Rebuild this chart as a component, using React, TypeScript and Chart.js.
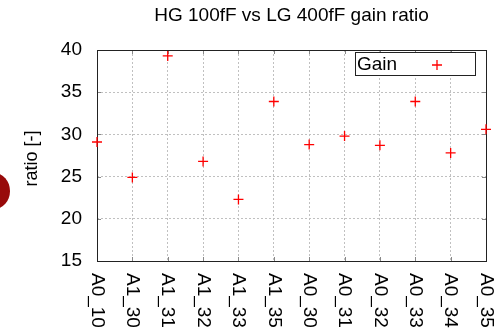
import React, { useEffect, useRef } from "react";
import { Chart, registerables } from "chart.js";

Chart.register(...registerables);

const TITLE = "HG 100fF vs LG 400fF gain ratio";
const Y_TITLE = "ratio [-]";
const SERIES_NAME = "Gain";
const CATEGORIES = ["A0_10", "A1_30", "A1_31", "A1_32", "A1_33", "A1_35", "A0_30", "A0_31", "A0_32", "A0_33", "A0_34", "A0_35"];
const GAIN_VALUES = [29.1, 24.9, 39.3, 26.8, 22.3, 33.9, 28.8, 29.8, 28.7, 33.9, 27.8, 30.6];
const Y_MIN = 15;
const Y_MAX = 40;
const Y_STEP = 5;

const FONT = "'Liberation Sans', Arial, sans-serif";
const RED = "#ff0000";
const GRID = "#c0c0c0";

const drawPlus = (ctx: CanvasRenderingContext2D, x: number, y: number, r: number) => {
  ctx.beginPath();
  ctx.moveTo(x - r, y);
  ctx.lineTo(x + r, y);
  ctx.moveTo(x, y - r);
  ctx.lineTo(x, y + r);
  ctx.stroke();
};

const decorPlugin = {
  id: "decor",
  beforeDraw(chart: any) {
    const ctx = chart.ctx as CanvasRenderingContext2D;
    ctx.save();
    ctx.fillStyle = "#ffffff";
    ctx.fillRect(0, 0, chart.width, chart.height);
    // partial dark red shape at left edge
    ctx.fillStyle = "#980a0a";
    ctx.beginPath();
    ctx.ellipse(-6, 191, 16, 18, 0, 0, Math.PI * 2);
    ctx.fill();
    ctx.restore();
  },
  beforeDatasetsDraw(chart: any) {
    const ctx = chart.ctx as CanvasRenderingContext2D;
    const a = chart.chartArea;
    const xs = chart.scales.x;
    const ys = chart.scales.y;
    ctx.save();
    // inward tick marks
    ctx.strokeStyle = "#888888";
    ctx.lineWidth = 1;
    ctx.beginPath();
    ys.ticks.forEach((t: any) => {
      const py = Math.round(ys.getPixelForValue(t.value)) + 0.5;
      ctx.moveTo(a.left, py);
      ctx.lineTo(a.left + 4, py);
      ctx.moveTo(a.right, py);
      ctx.lineTo(a.right - 4, py);
    });
    CATEGORIES.forEach((_, i) => {
      const px = Math.round(xs.getPixelForValue(i)) + 0.5;
      ctx.moveTo(px, a.bottom);
      ctx.lineTo(px, a.bottom - 4);
      ctx.moveTo(px, a.top);
      ctx.lineTo(px, a.top + 4);
    });
    ctx.stroke();
    // plot border box
    ctx.strokeStyle = "#222222";
    ctx.lineWidth = 1;
    ctx.strokeRect(Math.round(a.left) + 0.5, Math.round(a.top) + 0.5, Math.round(a.right - a.left), Math.round(a.bottom - a.top));
    ctx.restore();
  },
  afterDraw(chart: any) {
    const ctx = chart.ctx as CanvasRenderingContext2D;
    const a = chart.chartArea;
    const xs = chart.scales.x;
    ctx.save();
    ctx.fillStyle = "#000000";
    // title
    ctx.font = `19px ${FONT}`;
    ctx.textAlign = "center";
    ctx.textBaseline = "alphabetic";
    ctx.fillText(TITLE, (a.left + a.right) / 2, 21);
    // y axis title
    ctx.save();
    ctx.translate(37, (a.top + a.bottom) / 2 + 3);
    ctx.rotate(-Math.PI / 2);
    ctx.font = `18px ${FONT}`;
    ctx.textAlign = "center";
    ctx.textBaseline = "alphabetic";
    ctx.fillText(Y_TITLE, 0, 0);
    ctx.restore();
    // x tick labels, rotated clockwise
    ctx.font = `19px ${FONT}`;
    CATEGORIES.forEach((lab, i) => {
      const px = xs.getPixelForValue(i);
      ctx.save();
      ctx.translate(px, a.bottom + 12);
      ctx.rotate(Math.PI / 2);
      ctx.textAlign = "left";
      ctx.textBaseline = "middle";
      ctx.fillText(lab, 0, 0);
      ctx.restore();
    });
    // legend
    const lx = 355.5, ly = 52.5, lw = 120, lh = 23;
    ctx.fillStyle = "#ffffff";
    ctx.fillRect(lx, ly, lw, lh);
    ctx.strokeStyle = "#222222";
    ctx.lineWidth = 1;
    ctx.strokeRect(lx, ly, lw, lh);
    ctx.fillStyle = "#000000";
    ctx.font = `19px ${FONT}`;
    ctx.textAlign = "left";
    ctx.textBaseline = "alphabetic";
    ctx.fillText(SERIES_NAME, 357, 70);
    ctx.strokeStyle = RED;
    ctx.lineWidth = 1.3;
    drawPlus(ctx, 437, 65, 5);
    ctx.restore();
  },
};

export default function App() {
  const ref = useRef<HTMLCanvasElement | null>(null);
  useEffect(() => {
    if (!ref.current) return;
    const chart = new Chart(ref.current, {
      type: "line",
      data: {
        labels: CATEGORIES,
        datasets: [
          {
            label: SERIES_NAME,
            data: GAIN_VALUES,
            showLine: false,
            pointStyle: "cross",
            pointRadius: 5,
            pointHoverRadius: 5,
            pointBorderColor: RED,
            pointBackgroundColor: RED,
            pointBorderWidth: 1.3,
            borderColor: RED,
            clip: false,
          } as any,
        ],
      },
      options: {
        animation: false,
        responsive: false,
        devicePixelRatio: 1,
        events: [],
        layout: { padding: { top: 50, right: 10, bottom: 0, left: 0 } },
        plugins: {
          legend: { display: false },
          title: { display: false },
          tooltip: { enabled: false },
        },
        scales: {
          x: {
            type: "category",
            offset: false,
            ticks: { display: false },
            grid: { color: GRID, lineWidth: 1, drawTicks: false },
            border: { display: false, dash: [2, 2] },
            afterFit: (s: any) => {
              s.height = 70;
            },
          },
          y: {
            type: "linear",
            min: Y_MIN,
            max: Y_MAX,
            ticks: {
              stepSize: Y_STEP,
              color: "#000000",
              font: { family: FONT, size: 19 },
              padding: 15,
            },
            grid: { color: GRID, lineWidth: 1, drawTicks: false },
            border: { display: false, dash: [2, 2] },
            afterFit: (s: any) => {
              s.width = 97;
            },
          },
        },
      },
      plugins: [decorPlugin],
    });
    return () => chart.destroy();
  }, []);
  return (
    <div style={{ position: "absolute", left: 0, top: 0, width: 496, height: 331 }}>
      <canvas ref={ref} width={496} height={331} style={{ display: "block" }} />
    </div>
  );
}
